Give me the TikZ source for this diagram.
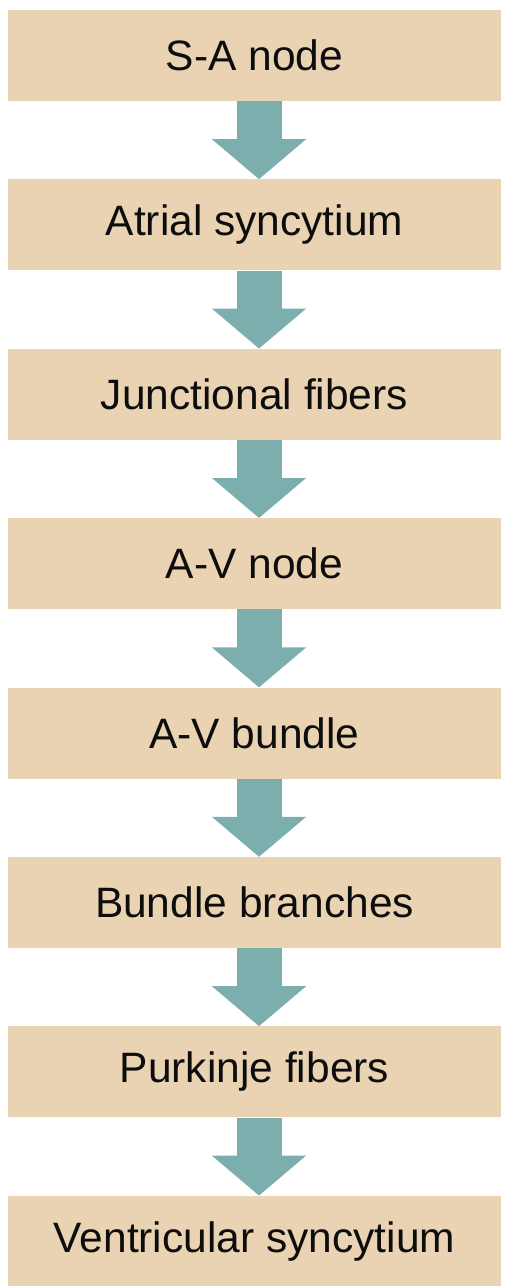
\documentclass[tikz,border=0pt]{standalone}
\usepackage{fontspec}
\setmainfont{Liberation Sans}
\usepackage{tikz}
\usetikzlibrary{arrows.meta, positioning}
\definecolor{boxTan}{RGB}{234,211,179}
\definecolor{arrowTeal}{RGB}{124,174,174}

\begin{document}
\begin{tikzpicture}[
  x=1pt, y=1pt,
  node distance=78pt,
  box/.style={rectangle, fill=boxTan, draw=none, minimum width=493pt,
              minimum height=91pt, inner sep=0pt, align=center,
              font=\fontsize{42.5}{48}\selectfont, text=black!95},
  arr/.style={arrowTeal, line width=45pt,
              -{Triangle[width=92pt, length=40pt]}},
]
\useasboundingbox (0,0) rectangle (506,-1286);

%% Nodes
\node[box] (sa) at (254.5,-55.5) {S-A node};
\node[box, below=of sa]       (atrial)   {Atrial syncytium};
\node[box, below=of atrial]   (junct)    {Junctional fibers};
\node[box, below=of junct]    (avnode)   {A-V node};
\node[box, below=of avnode]   (avbundle) {A-V bundle};
\node[box, below=of avbundle] (branches) {Bundle branches};
\node[box, below=of branches] (purkinje) {Purkinje fibers};
\node[box, below=of purkinje] (ventr)    {Ventricular syncytium};

%% Edges
\foreach \a/\b in {sa/atrial, atrial/junct, junct/avnode, avnode/avbundle,
                   avbundle/branches, branches/purkinje, purkinje/ventr}
  \draw[arr] ([xshift=4.5pt]\a.south) -- ([xshift=4.5pt]\b.north);
\end{tikzpicture}
\end{document}
